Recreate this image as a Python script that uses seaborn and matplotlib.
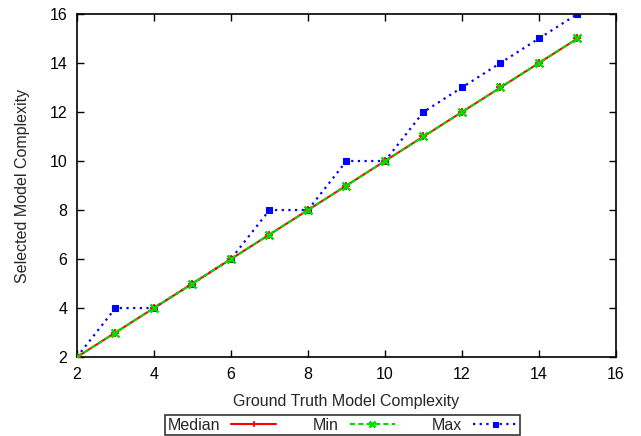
import pandas as pd
import seaborn as sns
import matplotlib.pyplot as plt

ground_truth = [2, 3, 4, 5, 6, 7, 8, 9, 10, 11, 12, 13, 14, 15]
median_sel = [2, 3, 4, 5, 6, 7, 8, 9, 10, 11, 12, 13, 14, 15]
min_sel = [2, 3, 4, 5, 6, 7, 8, 9, 10, 11, 12, 13, 14, 15]
max_sel = [2, 4, 4, 5, 6, 8, 8, 10, 10, 12, 13, 14, 15, 16]

df = pd.DataFrame({'x': ground_truth, 'Median': median_sel,
                   'Min': min_sel, 'Max': max_sel})

sns.set_style('ticks')
plt.rcParams['font.family'] = ['Liberation Sans', 'DejaVu Sans']

fig = plt.figure(figsize=(6.41, 4.36), dpi=100)
ax = fig.add_axes([0.120, 0.181, 0.841, 0.787])

# Max drawn first so the others sit on top
sns.lineplot(data=df, x='x', y='Max', ax=ax, color='#0000ff',
             linestyle=(0, (1, 2)), linewidth=1.6, marker='s', markersize=4.5,
             markeredgecolor='#0000ff', markeredgewidth=0.8,
             label='Max', zorder=2)
sns.lineplot(data=df, x='x', y='Median', ax=ax, color='#ff0000', linestyle='-',
             linewidth=1.5, marker='+', markersize=6, markeredgecolor='#ff0000',
             markeredgewidth=1.3, label='Median', zorder=3)
sns.lineplot(data=df, x='x', y='Min', ax=ax, color='#00dd00',
             linestyle=(0, (2.5, 1.5)), linewidth=1.5, marker='x',
             markersize=5.5, markeredgecolor='#00dd00', markeredgewidth=1.8,
             label='Min', zorder=4)

ax.set_xlim(2, 16)
ax.set_ylim(2, 16)
ax.set_xticks(range(2, 17, 2))
ax.set_yticks(range(2, 17, 2))
ax.tick_params(direction='in', top=True, right=True, length=5, width=1,
               labelsize=11.5, colors='black', pad=7)
for s in ax.spines.values():
    s.set_linewidth(1.2)
    s.set_color('black')
ax.set_xlabel('Ground Truth Model Complexity', fontsize=11.5, labelpad=9)
ax.set_ylabel('Selected Model Complexity', fontsize=11.5, labelpad=14)

handles, labels = ax.get_legend_handles_labels()
order = [labels.index(n) for n in ['Median', 'Min', 'Max']]
leg = ax.legend([handles[i] for i in order], [labels[i] for i in order],
                loc='center', bbox_to_anchor=(0.493, -0.198), ncol=3,
                markerfirst=False, frameon=True, fancybox=False,
                edgecolor='black', fontsize=11.5, handlelength=2.8,
                columnspacing=2.3, borderpad=0.15, handletextpad=0.7,
                borderaxespad=0)
leg.get_frame().set_linewidth(1.2)
for h in leg.legend_handles:
    x0, x1 = h.get_xdata()[0], h.get_xdata()[-1]
    y0 = h.get_ydata()[0]
    h.set_data([x0, (x0 + x1) / 2, x1], [y0, y0, y0])
    h.set_markevery([1])
    h.set_markersize(h.get_markersize() * 0.8)

fig.savefig('out.png', dpi=100)
